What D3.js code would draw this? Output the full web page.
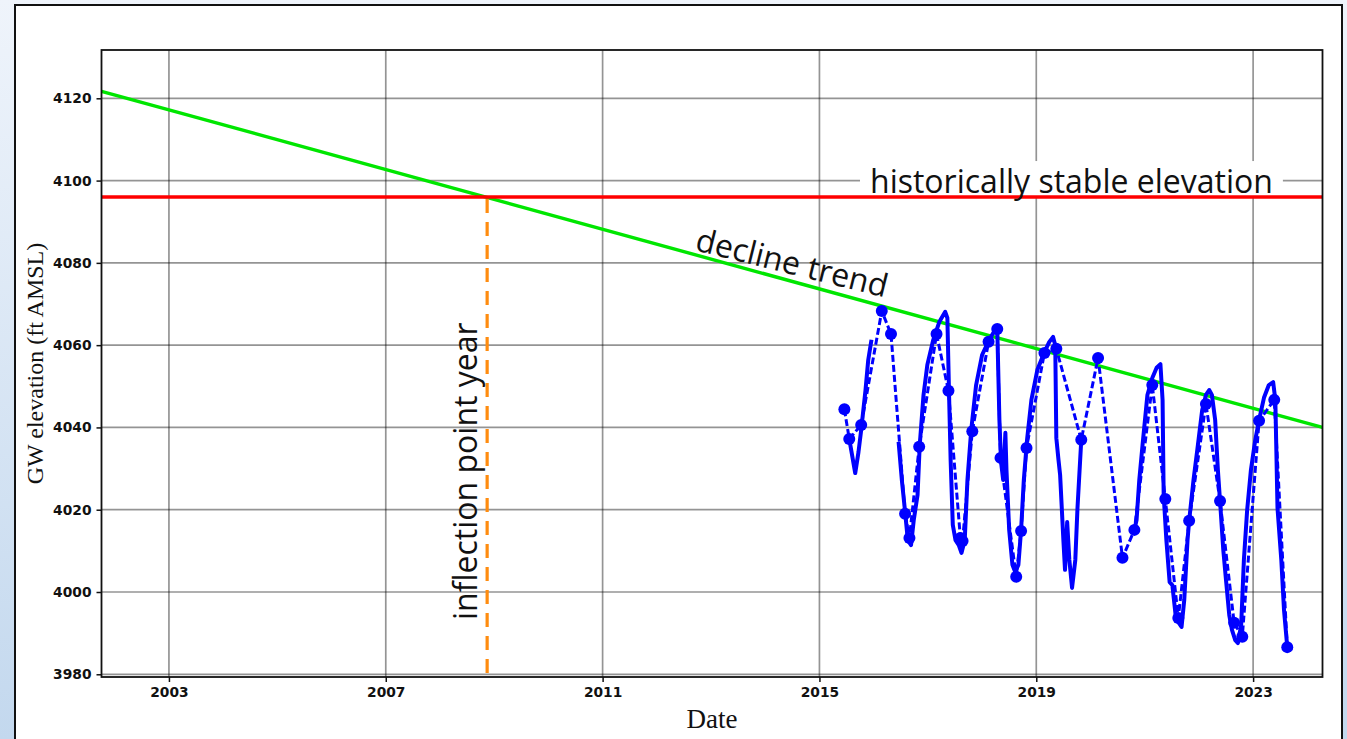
<!DOCTYPE html>
<html>
<head>
<meta charset="utf-8">
<script src="https://cdn.jsdelivr.net/npm/d3@7"></script>
<style>
  body { margin: 0; background: #fff; }
  svg { display: block; }
</style>
</head>
<body>
<svg id="chart" width="1347" height="739"></svg>
<script>
"use strict";

// tick labels
var xTickYears = [2003, 2007, 2011, 2015, 2019, 2023];
var yTickValues = [3980, 4000, 4020, 4040, 4060, 4080, 4100, 4120];

// manual (dashed + dots) measurements
var manualYears = [2015.46, 2015.55, 2015.77, 2016.15, 2016.32, 2016.58, 2016.66, 2016.84,
  2017.16, 2017.38, 2017.60, 2017.64, 2017.82, 2018.12, 2018.28, 2018.34, 2018.63, 2018.72,
  2018.82, 2019.15, 2019.37, 2019.83, 2020.14, 2020.59, 2020.81, 2021.14, 2021.38, 2021.62,
  2021.82, 2022.13, 2022.39, 2022.65, 2022.80, 2023.11, 2023.39, 2023.63];
var manualLevels = [4044.4, 4037.2, 4040.6, 4068.3, 4062.7, 4019.0, 4013.1, 4035.3,
  4062.7, 4048.9, 4013.1, 4012.4, 4039.1, 4060.8, 4063.9, 4032.6, 4003.7, 4014.8,
  4035.0, 4058.1, 4059.1, 4037.0, 4056.9, 4008.3, 4015.1, 4050.3, 4022.6, 3993.7,
  4017.3, 4045.7, 4022.1, 3992.5, 3989.1, 4041.6, 4046.7, 3986.6];

// logger (solid) record, null = gap
var loggerYears = [2015.55, 2015.66, 2015.72, 2015.77, 2015.85, 2015.90, 2015.96, null,
  2016.46, 2016.52, 2016.58, 2016.63, 2016.69, 2016.74, 2016.81, 2016.85, 2016.92, 2016.99,
  2017.10, 2017.21, 2017.32, 2017.36, 2017.39, 2017.42, 2017.46, 2017.51, 2017.57, 2017.62,
  2017.68, 2017.73, 2017.80, 2017.89, 2018.00, 2018.13, 2018.24, 2018.28, 2018.32, 2018.35,
  2018.39, 2018.43, 2018.45, 2018.50, 2018.56, 2018.61, 2018.67, 2018.72, 2018.77, 2018.83,
  2018.91, 2019.02, 2019.15, 2019.24, 2019.31, 2019.35, 2019.37, 2019.41, 2019.44, 2019.50,
  2019.53, 2019.57, 2019.61, 2019.66, 2019.72, 2019.76, 2019.83, null,
  2020.81, 2020.85, 2020.90, 2020.96, 2021.05, 2021.14, 2021.22, 2021.29, 2021.33, 2021.35,
  2021.40, 2021.46, 2021.51, 2021.57, 2021.62, 2021.68, 2021.73, 2021.79, 2021.82, 2021.90,
  2021.97, 2022.06, 2022.13, 2022.19, 2022.24, 2022.30, 2022.35, 2022.39, 2022.45, 2022.50,
  2022.56, 2022.61, 2022.67, 2022.72, 2022.78, 2022.83, 2022.89, 2022.96, 2023.04, 2023.11,
  2023.20, 2023.29, 2023.37, 2023.41, 2023.45, 2023.52, 2023.57, 2023.63];
var loggerLevels = [4037.2, 4028.9, 4034.0, 4039.4, 4049.1, 4056.4, 4061.3, null,
  4036.5, 4027.2, 4019.5, 4012.6, 4011.4, 4017.5, 4023.6, 4035.7, 4047.9, 4055.2,
  4061.3, 4065.6, 4068.1, 4066.6, 4048.6, 4032.1, 4016.3, 4012.6, 4011.4, 4009.5,
  4012.6, 4027.2, 4039.4, 4050.3, 4057.6, 4061.3, 4063.7, 4064.2, 4041.8, 4031.6,
  4027.2, 4038.7, 4029.7, 4015.1, 4006.6, 4004.9, 4006.6, 4015.1, 4027.2, 4037.0,
  4046.7, 4054.0, 4058.3, 4060.8, 4062.0, 4060.0, 4037.4, 4032.1, 4028.4, 4012.6,
  4005.4, 4017.0, 4007.8, 4001.0, 4007.8, 4020.4, 4037.0, null,
  4015.1, 4017.5, 4027.2, 4035.7, 4047.9, 4052.0, 4054.5, 4055.4, 4046.7, 4023.6,
  4012.6, 4002.4, 4001.7, 3994.4, 3992.7, 3991.5, 3998.1, 4012.6, 4017.3, 4027.2,
  4034.5, 4044.2, 4047.9, 4049.1, 4047.9, 4041.8, 4029.7, 4022.1, 4010.2, 4002.9,
  3994.4, 3990.8, 3988.3, 3987.6, 3992.0, 4007.8, 4019.9, 4029.7, 4037.0, 4041.8,
  4047.2, 4050.3, 4051.0, 4046.7, 4020.4, 4007.8, 3995.6, 3986.6];

// reference lines
var trendYears = [2001.756, 2024.28];
var trendLevels = [4121.7, 4040.0];
var stableLevel = 4096.0;
var inflectionYear = 2008.87;

var svg = d3.select("#chart");
var W = 1347, H = 739;
var plotLeft = 101.5, plotRight = 1322.5, plotTop = 50, plotBottom = 677;

var x = d3.scaleLinear().domain([2001.756, 2024.28]).range([plotLeft, plotRight]);
var y = d3.scaleLinear().domain([3979.34, 4131.74]).range([plotBottom, plotTop]);

// page background + panel
var defs = svg.append("defs");
var grad = defs.append("linearGradient").attr("id", "bg")
    .attr("x1", 0).attr("y1", 0).attr("x2", 0).attr("y2", 1);
grad.append("stop").attr("offset", "0%").attr("stop-color", "#eff4fb");
grad.append("stop").attr("offset", "100%").attr("stop-color", "#c3d8ee");
svg.append("rect").attr("width", W).attr("height", H).attr("fill", "url(#bg)");
svg.append("rect")
    .attr("x", 15).attr("y", 5).attr("width", 1327).attr("height", 800)
    .attr("fill", "#fff").attr("stroke", "#111").attr("stroke-width", 2);

// grid
var grid = svg.append("g").attr("class", "grid");
grid.selectAll("line.v").data(xTickYears).enter().append("line")
    .attr("x1", function(d) { return x(d); }).attr("x2", function(d) { return x(d); })
    .attr("y1", plotTop).attr("y2", plotBottom);
grid.selectAll("line.h").data(yTickValues).enter().append("line")
    .attr("x1", plotLeft).attr("x2", plotRight)
    .attr("y1", function(d) { return y(d); }).attr("y2", function(d) { return y(d); });
grid.selectAll("line")
    .attr("stroke", "#000").attr("stroke-opacity", 0.42).attr("stroke-width", 1.7);

// trend line
var trend = trendYears.map(function(d, i) { return [d, trendLevels[i]]; });
svg.append("path")
    .datum(trend)
    .attr("d", d3.line().x(function(d) { return x(d[0]); }).y(function(d) { return y(d[1]); }))
    .attr("stroke", "#00e600").attr("stroke-width", 3.4).attr("fill", "none");

// white box behind the stable-line label (drawn before the red line)
var probe = svg.append("text")
    .attr("x", 870).attr("y", y(stableLevel) - 4)
    .attr("font-family", "Open Sans").attr("font-size", 32)
    .text("historically stable elevation");
var bb = probe.node().getBBox();
probe.remove();
svg.append("rect")
    .attr("x", bb.x - 10).attr("y", bb.y + 2)
    .attr("width", bb.width + 20).attr("height", y(stableLevel) - bb.y - 3)
    .attr("fill", "#fff");

svg.append("line")
    .attr("x1", plotLeft).attr("x2", plotRight)
    .attr("y1", y(stableLevel)).attr("y2", y(stableLevel))
    .attr("stroke", "#ff0000").attr("stroke-width", 3.4);

svg.append("line")
    .attr("x1", x(inflectionYear)).attr("x2", x(inflectionYear))
    .attr("y1", y(stableLevel) + 2).attr("y2", plotBottom)
    .attr("stroke", "#ff8c0f").attr("stroke-width", 3.2)
    .attr("stroke-dasharray", "14,9");

// blue series
var logger = loggerYears.map(function(d, i) { return [d, loggerLevels[i]]; });
var manual = manualYears.map(function(d, i) { return [d, manualLevels[i]]; });
var line = d3.line()
    .defined(function(d) { return d[0] !== null && d[1] !== null; })
    .x(function(d) { return x(d[0]); })
    .y(function(d) { return y(d[1]); });

svg.append("path").datum(logger)
    .attr("d", line)
    .attr("fill", "none").attr("stroke", "#0000ff").attr("stroke-width", 4)
    .attr("stroke-linejoin", "round");
svg.append("path").datum(manual)
    .attr("d", line)
    .attr("fill", "none").attr("stroke", "#0000ff").attr("stroke-width", 3)
    .attr("stroke-dasharray", "7,3");
svg.selectAll("circle.pt").data(manual).enter().append("circle")
    .attr("class", "pt")
    .attr("cx", function(d) { return x(d[0]); })
    .attr("cy", function(d) { return y(d[1]); })
    .attr("r", 6)
    .attr("fill", "#0000ff");

// annotations
svg.append("text")
    .attr("x", 870).attr("y", y(stableLevel) - 4)
    .attr("font-family", "Open Sans").attr("font-size", 32)
    .attr("fill", "#111")
    .text("historically stable elevation");

svg.append("text")
    .attr("transform", "translate(694,250) rotate(14)")
    .attr("font-family", "Open Sans").attr("font-size", 32)
    .attr("fill", "#111")
    .text("decline trend");

svg.append("text")
    .attr("transform", "translate(477,620) rotate(-90)")
    .attr("font-family", "Open Sans").attr("font-size", 32)
    .attr("fill", "#111")
    .text("inflection point year");

// axes
svg.append("g")
    .attr("transform", "translate(0," + plotBottom + ")")
    .call(d3.axisBottom(x).tickValues(xTickYears).tickFormat(d3.format("d"))
      .tickSize(5).tickPadding(5));
svg.append("g")
    .attr("transform", "translate(" + plotLeft + ",0)")
    .call(d3.axisLeft(y).tickValues(yTickValues).tickFormat(d3.format("d"))
      .tickSize(5).tickPadding(5));
svg.selectAll(".domain").remove();
svg.selectAll(".tick line").attr("stroke", "#111").attr("stroke-width", 1.5);
svg.selectAll(".tick text")
    .attr("font-family", "DejaVu Sans").attr("font-weight", "bold")
    .attr("font-size", 13.8).attr("fill", "#111");

svg.append("rect")
    .attr("x", plotLeft).attr("y", plotTop)
    .attr("width", plotRight - plotLeft).attr("height", plotBottom - plotTop)
    .attr("fill", "none").attr("stroke", "#111").attr("stroke-width", 1.8);

svg.append("text")
    .attr("transform", "translate(43," + ((plotTop + plotBottom) / 2) + ") rotate(-90)")
    .attr("text-anchor", "middle")
    .attr("font-family", "Liberation Serif").attr("font-size", 24)
    .attr("fill", "#111")
    .text("GW elevation (ft AMSL)");

svg.append("text")
    .attr("x", (plotLeft + plotRight) / 2).attr("y", 728)
    .attr("text-anchor", "middle")
    .attr("font-family", "Liberation Serif").attr("font-size", 27)
    .attr("fill", "#111")
    .text("Date");
</script>
</body>
</html>
